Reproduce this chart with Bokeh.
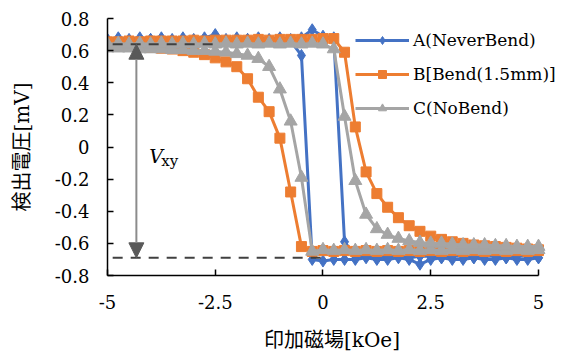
from bokeh.plotting import figure
from bokeh.models import Legend, LegendItem, Label, Arrow, NormalHead, FixedTicker
from bokeh.embed import file_html
from bokeh.resources import INLINE

# ---------------- data ----------------
field_down = [5.0, 4.75, 4.5, 4.25, 4.0, 3.75, 3.5, 3.25, 3.0, 2.75, 2.5, 2.25, 2.0, 1.75,
              1.5, 1.25, 1.0, 0.75, 0.5, 0.25, 0.0, -0.25, -0.5, -0.75, -1.0, -1.25, -1.5,
              -1.75, -2.0, -2.25, -2.5, -2.75, -3.0, -3.25, -3.5, -3.75, -4.0, -4.25, -4.5,
              -4.75, -5.0]
field_up = [-5.0, -4.75, -4.5, -4.25, -4.0, -3.75, -3.5, -3.25, -3.0, -2.75, -2.5, -2.25,
            -2.0, -1.75, -1.5, -1.25, -1.0, -0.75, -0.5, -0.25, 0.0, 0.25, 0.5, 0.75, 1.0,
            1.25, 1.5, 1.75, 2.0, 2.25, 2.5, 2.75, 3.0, 3.25, 3.5, 3.75, 4.0, 4.25, 4.5,
            4.75, 5.0]

A_down = [-0.69, -0.70, -0.70, -0.69, -0.70, -0.70, -0.69, -0.70, -0.70, -0.69, -0.70, -0.73,
          -0.70, -0.69, -0.70, -0.70, -0.69, -0.70, -0.70, -0.70, -0.71, -0.70, 0.57, 0.66,
          0.67, 0.66, 0.66, 0.67, 0.66, 0.66, 0.67, 0.66, 0.66, 0.67, 0.66, 0.66, 0.67, 0.66,
          0.66, 0.67, 0.66]
A_up = [0.67, 0.68, 0.67, 0.68, 0.67, 0.68, 0.67, 0.68, 0.67, 0.68, 0.70, 0.67, 0.68, 0.67,
        0.68, 0.67, 0.68, 0.67, 0.68, 0.73, 0.69, 0.68, -0.59, -0.68, -0.68, -0.69, -0.68,
        -0.68, -0.69, -0.68, -0.68, -0.69, -0.68, -0.68, -0.69, -0.68, -0.68, -0.69, -0.68,
        -0.68, -0.69]

B_down = [-0.645, -0.65, -0.645, -0.65, -0.645, -0.65, -0.645, -0.65, -0.645, -0.65, -0.645,
          -0.65, -0.645, -0.65, -0.645, -0.65, -0.645, -0.65, -0.645, -0.65, -0.645, -0.65,
          -0.62, -0.28, 0.055, 0.22, 0.31, 0.425, 0.50, 0.53, 0.555, 0.575, 0.59, 0.60, 0.61,
          0.615, 0.62, 0.625, 0.63, 0.63, 0.635]
B_up = [0.655, 0.655, 0.66, 0.655, 0.66, 0.66, 0.66, 0.66, 0.665, 0.66, 0.665, 0.665, 0.665,
        0.665, 0.67, 0.665, 0.67, 0.67, 0.67, 0.67, 0.675, 0.675, 0.59, 0.125, -0.155, -0.29,
        -0.375, -0.44, -0.49, -0.525, -0.555, -0.575, -0.59, -0.60, -0.61, -0.615, -0.62,
        -0.625, -0.63, -0.635, -0.64]

C_down = [-0.64, -0.645, -0.64, -0.645, -0.64, -0.645, -0.64, -0.645, -0.64, -0.645, -0.64,
          -0.645, -0.64, -0.645, -0.64, -0.645, -0.64, -0.645, -0.64, -0.645, -0.64, -0.65,
          -0.19, 0.16, 0.36, 0.50, 0.55, 0.57, 0.58, 0.59, 0.595, 0.60, 0.60, 0.605, 0.605,
          0.61, 0.61, 0.61, 0.615, 0.615, 0.615]
C_up = [0.64, 0.645, 0.64, 0.645, 0.64, 0.645, 0.64, 0.645, 0.64, 0.645, 0.64, 0.645, 0.64,
        0.645, 0.64, 0.645, 0.64, 0.645, 0.64, 0.645, 0.64, 0.61, 0.19, -0.21, -0.42, -0.51,
        -0.545, -0.57, -0.585, -0.595, -0.60, -0.60, -0.605, -0.61, -0.61, -0.61, -0.615,
        -0.615, -0.62, -0.62, -0.62]

series_names = ["A(NeverBend)", "B[Bend(1.5mm)]", "C(NoBend)"]
x_ticks = [-5, -2.5, 0, 2.5, 5]
x_tick_labels = ["-5", "-2.5", "0", "2.5", "5"]
y_ticks = [-0.8, -0.6, -0.4, -0.2, 0, 0.2, 0.4, 0.6, 0.8]
y_tick_labels = ["-0.8", "-0.6", "-0.4", "-0.2", "0", "0.2", "0.4", "0.6", "0.8"]

# reference levels for Vxy
v_levels = [0.64, -0.69]
level_x0 = [-4.88, -4.88]
level_x1 = [-2.5, 0.0]

# ---------------- figure ----------------
LATIN = "DejaVu Serif"
MIXED = "DejaVu Serif, Noto Sans CJK JP"

# the frame extends a little past +5 so that the legend (which sits partly
# right of the axis end) is not clipped; the x axis itself stops at +5.
p = figure(frame_width=449, frame_height=257, output_backend="svg", toolbar_location=None,
           x_range=(-5, 5.418), y_range=(-0.8, 0.8),
           min_border_left=107, min_border_right=4, min_border_top=18, min_border_bottom=76)
p.outline_line_color = None
p.xgrid.visible = False
p.ygrid.visible = False
p.background_fill_color = "white"

for ax in (p.xaxis[0], p.yaxis[0]):
    ax.axis_line_color = "black"
    ax.axis_line_width = 1.5
    ax.major_tick_line_color = "black"
    ax.major_tick_line_width = 1.5
    ax.major_tick_in = 6
    ax.major_tick_out = 0
    ax.minor_tick_line_color = None
    ax.major_label_text_font = LATIN
    ax.major_label_text_font_size = "18px"
    ax.major_label_text_color = "black"
    ax.axis_label_text_font = MIXED
    ax.axis_label_text_font_size = "20px"
    ax.axis_label_text_font_style = "normal"
    ax.axis_label_text_color = "black"

p.xaxis[0].bounds = (-5, 5)
p.xaxis[0].ticker = FixedTicker(ticks=x_ticks)
p.xaxis[0].major_label_overrides = dict(zip(x_ticks, x_tick_labels))
p.xaxis[0].major_label_standoff = 19
p.xaxis[0].axis_label = "印加磁場[kOe]"
p.xaxis[0].axis_label_standoff = 16

p.yaxis[0].ticker = FixedTicker(ticks=y_ticks)
p.yaxis[0].major_label_overrides = dict(zip(y_ticks, y_tick_labels))
p.yaxis[0].major_label_standoff = 18
p.yaxis[0].axis_label = "検出電圧[mV]"
p.yaxis[0].axis_label_standoff = 18

colors = ["#4472C4", "#ED7D31", "#A5A5A5"]
markers = ["diamond", "square", "triangle"]
msizes = [12, 10, 13]
downs = [A_down, B_down, C_down]
ups = [A_up, B_up, C_up]

items = []
for name, col, mk, ms, d, u in zip(series_names, colors, markers, msizes, downs, ups):
    xs = field_down + field_up
    ys = d + u
    ln = p.line(xs, ys, line_color=col, line_width=3)
    sc = p.scatter(xs, ys, marker=mk, size=ms, fill_color=col, line_color=col)
    items.append(LegendItem(label=name, renderers=[ln, sc]))

# dashed reference levels
p.segment(x0=level_x0, y0=v_levels, x1=level_x1, y1=v_levels,
          line_color="#404040", line_width=2, line_dash="10 8")

# double-headed arrow
head_kw = dict(size=15, fill_color="#595959", line_color="#595959")
p.add_layout(Arrow(start=NormalHead(**head_kw), end=NormalHead(**head_kw),
                   x_start=-4.33, y_start=v_levels[1], x_end=-4.33, y_end=v_levels[0],
                   line_color="#8c8c8c", line_width=2))

p.add_layout(Label(x=-4.03, y=-0.056, text="V", text_font=LATIN,
                   text_font_style="italic", text_font_size="19px", text_color="black",
                   text_baseline="alphabetic", text_align="left"))
p.add_layout(Label(x=-3.75, y=-0.085, text="xy", text_font=LATIN,
                   text_font_size="15px", text_color="black",
                   text_baseline="alphabetic", text_align="left"))

legend = Legend(items=items, location=(248, 157), orientation="vertical",
                label_text_font=LATIN, label_text_font_size="17px", label_text_color="black",
                glyph_width=54, glyph_height=20, label_height=20, label_standoff=4,
                spacing=14, padding=0, margin=0, border_line_color=None,
                background_fill_alpha=0)
p.add_layout(legend)

open("out.html", "w").write(file_html(p, INLINE))
